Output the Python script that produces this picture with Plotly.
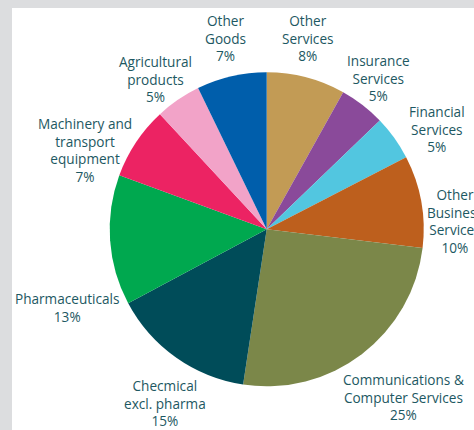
import plotly.graph_objects as go

# slices, clockwise from 12 o'clock
labels = ["Other Services", "Insurance Services", "Financial Services",
          "Other Business Services", "Communications & Computer Services",
          "Chemical excl. pharma", "Pharmaceuticals",
          "Machinery and transport equipment", "Agricultural products", "Other Goods"]
shares = [8.1, 4.7, 4.6, 9.5, 25.5, 14.8, 13.4, 7.5, 4.7, 7.2]
shown_pct = [8, 5, 5, 10, 25, 15, 13, 7, 5, 7]
colors = ["#c29b55", "#8a4a9a", "#52c6e0", "#bd5f1d", "#7b8749",
          "#004c59", "#00a84f", "#ec2363", "#f2a3c8", "#005eab"]

# label text as printed (line breaks and the original spelling)
label_lines = [["Other", "Services"], ["Insurance", "Services"], ["Financial", "Services"],
               ["Other", "Business", "Services"], ["Communications &", "Computer Services"],
               ["Checmical", "excl. pharma"], ["Pharmaceuticals"],
               ["Machinery and", "transport", "equipment"], ["Agricultural", "products"],
               ["Other", "Goods"]]
# label centres in pixels (x from left, y from top)
label_pos = [(308, 38), (378, 78), (437, 129), (455, 221), (403, 397),
             (165, 403), (67, 307), (85, 150), (155, 79), (225, 38)]

W, H = 474, 430
cx, cy, r = 266.7, 229.3, 157

fig = go.Figure(go.Pie(
    labels=labels, values=shares, sort=False, direction="clockwise", rotation=0,
    marker=dict(colors=colors, line=dict(width=0)),
    textinfo="none", hoverinfo="label+percent", showlegend=False,
    domain=dict(x=[(cx - r) / W, (cx + r) / W], y=[(H - cy - r) / H, (H - cy + r) / H]),
))

for lines, pct, (x, y) in zip(label_lines, shown_pct, label_pos):
    fig.add_annotation(
        text="<br>".join(lines + [f"{pct}%"]),
        x=x / W, y=1 - y / H, xref="paper", yref="paper",
        xanchor="center", yanchor="middle", showarrow=False, align="center",
        font=dict(family="Open Sans", size=13.6, color="#1d5862"),
    )

fig.add_shape(type="rect", xref="paper", yref="paper", x0=12 / W, x1=1.01, y0=-0.01, y1=1 - 8 / H,
              fillcolor="white", line=dict(width=0), layer="below")

fig.update_layout(width=W, height=H, margin=dict(l=0, r=0, t=0, b=0),
                  paper_bgcolor="#dcdddf", plot_bgcolor="#dcdddf")

fig.write_html("out.html", config={"displayModeBar": False},
               post_script="document.body.style.margin='0';document.body.style.overflow='hidden';")
